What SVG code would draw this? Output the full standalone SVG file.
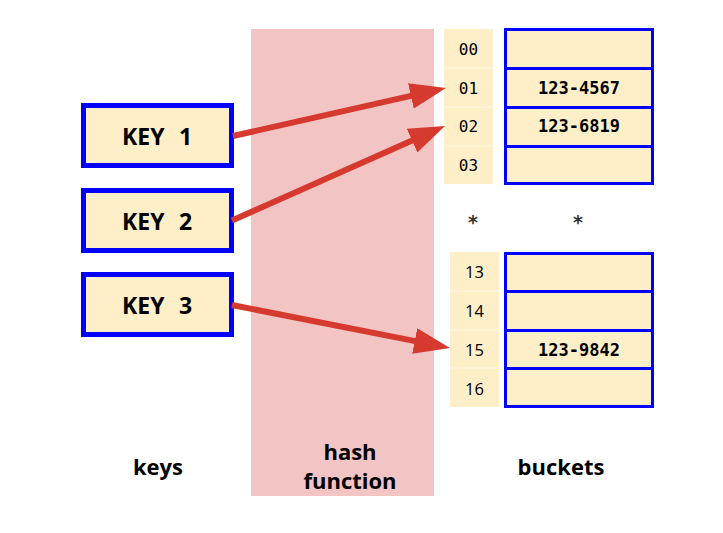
<svg xmlns="http://www.w3.org/2000/svg" width="723" height="533" viewBox="0 0 723 533">
<style>
.key rect{fill:#ffefc8;stroke:#0000ff;stroke-width:5}
.kt{font-family:"Open Sans",sans-serif;font-weight:bold;font-size:23px;fill:#000}
.idx{fill:#ffefc8}
.sep{stroke:#fff7e4;stroke-width:1}
.it{font-family:"DejaVu Sans Mono",monospace;font-size:16px;fill:#000;text-anchor:middle}
.ast{font-family:"DejaVu Sans Mono",monospace;font-weight:bold;font-size:19px;fill:#333;text-anchor:middle}
.is{font-family:"Open Sans",sans-serif;font-size:16.5px;fill:#000;text-anchor:middle}
.b{fill:#ffefc8;stroke:#0000ff;stroke-width:3}
.bt{font-family:"DejaVu Sans Mono",monospace;font-weight:bold;font-size:17px;fill:#000;text-anchor:middle}
.lab{font-family:"Open Sans",sans-serif;font-weight:bold;font-size:22px;fill:#000;text-anchor:middle}
.arr{stroke:#d63a2f;stroke-width:6;fill:none;marker-end:url(#ah)}
</style>
<defs>
<marker id="ah" markerUnits="userSpaceOnUse" markerWidth="36" markerHeight="26" refX="16" refY="13" orient="auto" viewBox="0 0 36 26">
<path d="M0,0 L36,13 L0,26 z" fill="#d63a2f"/>
</marker>
</defs>
<rect width="723" height="533" fill="#fff"/>
<g id="hash-function">
<rect x="251" y="29" width="183" height="467" fill="#f2c4c4"/>
<text class="lab" x="350" y="460">hash</text>
<text class="lab" x="350" y="489">function</text>
</g>
<g id="key1" class="key"><rect x="83.5" y="105.5" width="148" height="60"/><text class="kt" y="145"><tspan x="122">KEY</tspan><tspan x="179">1</tspan></text></g>
<g id="key2" class="key"><rect x="83.5" y="190.5" width="148" height="60"/><text class="kt" y="230"><tspan x="122">KEY</tspan><tspan x="179">2</tspan></text></g>
<g id="key3" class="key"><rect x="83.5" y="274.5" width="148" height="60"/><text class="kt" y="314"><tspan x="122">KEY</tspan><tspan x="179">3</tspan></text></g>
<g id="index-top">
<rect class="idx" x="444" y="29" width="49" height="155"/>
<line class="sep" x1="444" y1="68" x2="493" y2="68"/>
<line class="sep" x1="444" y1="107" x2="493" y2="107"/>
<line class="sep" x1="444" y1="146" x2="493" y2="146"/>
<text class="it" x="468.5" y="55">00</text>
<text class="it" x="468.5" y="94">01</text>
<text class="it" x="468.5" y="132">02</text>
<text class="it" x="468.5" y="171">03</text>
</g>
<g id="buckets-top">
<rect class="b" x="505.5" y="29.5" width="147" height="39"/>
<rect class="b" x="505.5" y="68.5" width="147" height="39"/>
<rect class="b" x="505.5" y="107.5" width="147" height="39"/>
<rect class="b" x="505.5" y="146.5" width="147" height="37"/>
<text class="bt" x="579" y="94">123-4567</text>
<text class="bt" x="579" y="132">123-6819</text>
</g>
<g id="ellipsis">
<text class="ast" x="473" y="229">*</text>
<text class="ast" x="578" y="229">*</text>
</g>
<g id="index-bottom">
<rect class="idx" x="450" y="252" width="49" height="155"/>
<line class="sep" x1="450" y1="291" x2="499" y2="291"/>
<line class="sep" x1="450" y1="330" x2="499" y2="330"/>
<line class="sep" x1="450" y1="368" x2="499" y2="368"/>
<text class="is" x="474.5" y="278">13</text>
<text class="is" x="474.5" y="317">14</text>
<text class="is" x="474.5" y="356">15</text>
<text class="is" x="474.5" y="395">16</text>
</g>
<g id="buckets-bottom">
<rect class="b" x="505.5" y="253.5" width="147" height="38"/>
<rect class="b" x="505.5" y="291.5" width="147" height="39"/>
<rect class="b" x="505.5" y="330.5" width="147" height="38"/>
<rect class="b" x="505.5" y="368.5" width="147" height="38"/>
<text class="bt" x="579" y="356">123-9842</text>
</g>
<g id="labels">
<text class="lab" x="158" y="475">keys</text>
<text class="lab" x="561" y="475">buckets</text>
</g>
<g id="connectors">
<line class="arr" x1="233" y1="136" x2="426.5" y2="92.4"/>
<line class="arr" x1="232" y1="220.5" x2="426.7" y2="134.1"/>
<line class="arr" x1="232" y1="305" x2="430.4" y2="344.1"/>
</g>
</svg>
